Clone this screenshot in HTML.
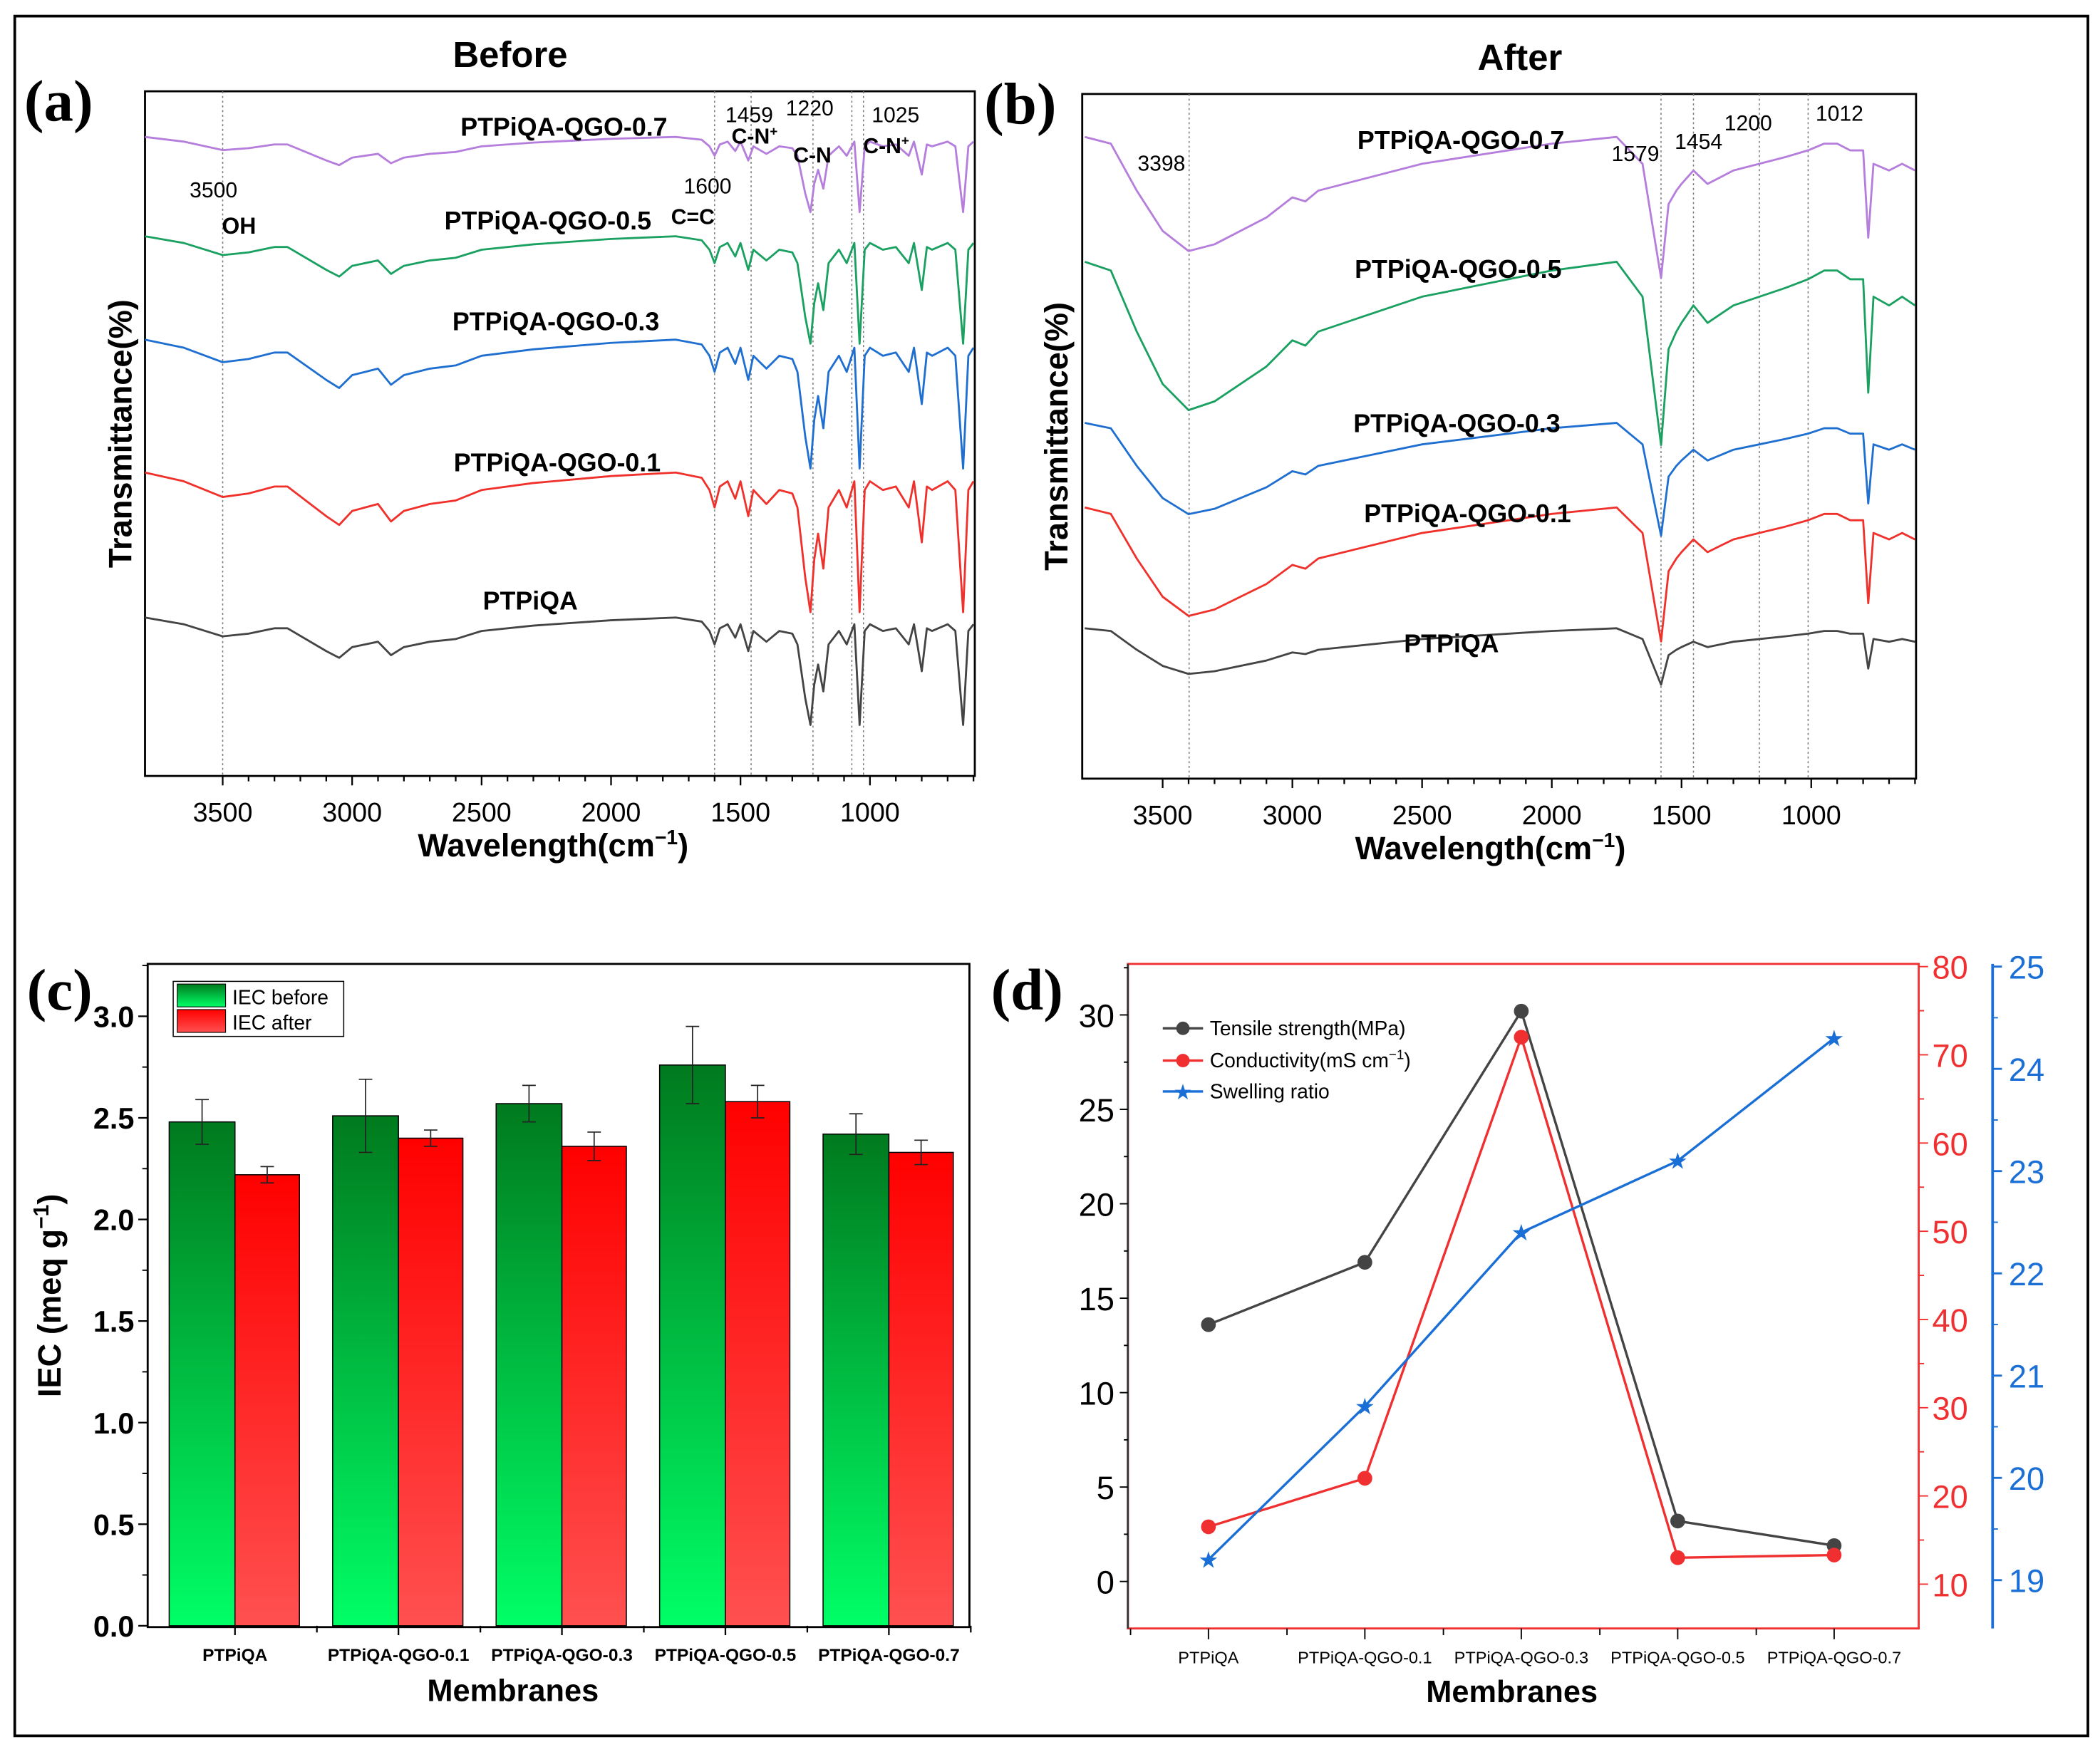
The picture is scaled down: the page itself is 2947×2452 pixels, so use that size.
<!DOCTYPE html>
<html><head><meta charset="utf-8"><style>
html,body{margin:0;padding:0;background:#fff}
svg{display:block}
text{font-family:"Liberation Sans",Arial,sans-serif}
.b{font-weight:bold}
.serif{font-family:"Liberation Serif",serif;font-weight:bold}
</style></head><body>
<svg id="fig" width="2947" height="2452" viewBox="0 0 1564 1301.3" preserveAspectRatio="none" xmlns="http://www.w3.org/2000/svg">
<defs>
<linearGradient id="gG" x1="0" y1="0" x2="0" y2="1"><stop offset="0" stop-color="#007a1e"/><stop offset="1" stop-color="#00ff66"/></linearGradient>
<linearGradient id="gR" x1="0" y1="0" x2="0" y2="1"><stop offset="0" stop-color="#ff0000"/><stop offset="1" stop-color="#ff5050"/></linearGradient>
</defs>
<rect x="11" y="12" width="1544" height="1281" fill="none" stroke="#000" stroke-width="2"/>
<g id="pa"></g>
<g id="pb"></g>
<g id="pc"></g>
<g id="pd"></g>
</svg>
<script>
// ---------- Data ----------
const ftirBeforeWn = [3800,3650,3500,3400,3300,3250,3100,3050,3000,2950,2900,2850,2800,2700,2600,2500,2300,2000,1750,1650,1620,1600,1580,1550,1520,1500,1470,1450,1400,1350,1300,1280,1250,1230,1215,1200,1180,1160,1120,1090,1060,1040,1020,1000,950,900,850,830,800,780,760,700,670,640,620,600];
const ftirBeforeT  = [0,5,14,12,8,8,25,30,22,20,18,28,22,18,16,10,6,2,0,3,10,20,8,5,15,5,25,10,18,10,12,20,60,80,50,35,55,20,10,20,5,80,10,5,10,8,20,5,40,8,10,5,10,80,10,5];
const ftirAfterWn = [3800,3700,3600,3500,3400,3300,3100,3000,2950,2900,2500,2000,1750,1650,1600,1579,1550,1520,1500,1454,1400,1350,1300,1200,1100,1012,950,900,850,800,780,760,700,650,600];
const ftirAfterT  = [0,5,40,70,85,80,60,45,48,40,20,5,0,20,80,105,50,40,35,25,35,30,25,20,15,10,5,5,10,10,75,20,25,20,25];
const beforeNames = ["PTPiQA-QGO-0.7","PTPiQA-QGO-0.5","PTPiQA-QGO-0.3","PTPiQA-QGO-0.1","PTPiQA"];
const beforeBase = [102,176,253,352,460];
const beforeScale = [0.7,1.0,1.2,1.3,1.0];
const afterBase = [102,195,315,378,468];
const afterScale = [1.0,1.3,0.8,0.95,0.4];
const seriesColors = ["#b57edc","#1aa060","#1f6fd1","#f0312b","#444"];

const membranes = ["PTPiQA","PTPiQA-QGO-0.1","PTPiQA-QGO-0.3","PTPiQA-QGO-0.5","PTPiQA-QGO-0.7"];
const iecBefore = [2.48,2.51,2.57,2.76,2.42];
const iecBeforeErr = [0.11,0.18,0.09,0.19,0.10];
const iecAfter = [2.22,2.40,2.36,2.58,2.33];
const iecAfterErr = [0.04,0.04,0.07,0.08,0.06];
const iecTicks = [0.0,0.5,1.0,1.5,2.0,2.5,3.0];

const tensile = [13.6,16.9,30.2,3.2,1.9];
const conductivity = [16.5,22,72,13,13.3];
const swelling = [19.2,20.7,22.4,23.1,24.3];
const tensileTicks = [0,5,10,15,20,25,30];
const condTicks = [10,20,30,40,50,60,70,80];
const swellTicks = [19,20,21,22,23,24,25];
const wnTicks = [3500,3000,2500,2000,1500,1000];

// ---------- helpers ----------
const NS="http://www.w3.org/2000/svg";
function el(parent,tag,attrs,txt){const e=document.createElementNS(NS,tag);for(const k in attrs)e.setAttribute(k,attrs[k]);if(txt!==undefined)e.textContent=txt;parent.appendChild(e);return e;}

// ---------- FTIR panels ----------
function ftir(g,box,wnMax,wnMin,wn,T,bases,scales,title,titleX,letter,letterX,annots,labelPos,ylabX,xlabX){
  const sx=w=>box.x+(wnMax-w)/(wnMax-wnMin)*box.w;
  let r=el(g,'rect',{x:box.x,y:box.y,width:box.w,height:box.h,fill:'none',stroke:'#000','stroke-width':1.5});
  
  annots.forEach(a=>{let l=el(g,'line',{x1:sx(a),x2:sx(a),y1:box.y,y2:box.y+box.h,stroke:'#777','stroke-width':0.8,'stroke-dasharray':'1.5,2'});
    });
  bases.forEach((b,i)=>{
    let d='';wn.forEach((w,j)=>{d+=(j?'L':'M')+sx(w).toFixed(1)+','+(b+T[j]*scales[i]).toFixed(1);});
    let p=el(g,'path',{d:d,fill:'none',stroke:seriesColors[i],'stroke-width':1.5,'stroke-linejoin':'round'});
    
    let t=el(g,'text',{x:labelPos[i][0],y:labelPos[i][1],'font-size':19,'text-anchor':'middle',class:'b'},beforeNames[i]);
    
  });
  for(let w=3500;w>=wnMin;w-=100){const x=sx(w);if(x>box.x+box.w||x<box.x)continue;const major=w%500===0;
    el(g,'line',{x1:x,x2:x,y1:box.y+box.h,y2:box.y+box.h+(major?7:4),stroke:'#000','stroke-width':1.2});}
  wnTicks.forEach(w=>{let t=el(g,'text',{x:sx(w),y:box.y+box.h+34,'font-size':20,'text-anchor':'middle'},w);
    });
  let t1=el(g,'text',{x:titleX,y:box.y-18,'font-size':27,'text-anchor':'middle',class:'b'},title);
  
  let t2=el(g,'text',{x:letterX,y:box.y+22,'font-size':44,class:'serif'},letter);
  
  let cy=box.y+box.h/2;
  let t3=el(g,'text',{x:ylabX,y:cy,'font-size':24,'text-anchor':'middle',class:'b',transform:`rotate(-90 ${ylabX} ${cy})`},'Transmittance(%)');
  
  let t4=el(g,'text',{x:xlabX,y:box.y+box.h+60,'font-size':24,'text-anchor':'middle',class:'b'});
  t4.innerHTML='Wavelength(cm<tspan dy="-9" font-size="15">−1</tspan><tspan dy="9">)</tspan>';
  
}
const pa=document.getElementById('pa');
ftir(pa,{x:108,y:68,w:618,h:510},3800,595,ftirBeforeWn,ftirBeforeT,beforeBase,beforeScale,'Before',380,'(a)',18,[3500,1600,1459,1220,1070,1025],
 [[420,101],[408,171],[414,246],[415,351],[395,454]],98,412);
const pb=document.getElementById('pb');
ftir(pb,{x:806,y:70,w:621,h:510},3810,596,ftirAfterWn,ftirAfterT,afterBase,afterScale,'After',1132,'(b)',733,[3398,1579,1454,1200,1012],
 [[1088,111],[1086,207],[1085,322],[1093,389],[1081,486]],795,1110);
// annotations
[['3500',159,147,16,''],['OH',178,174,17,'b'],['1600',527,144,16,''],['C=C',516,167,16,'b'],['1459',558,91,16,''],['1220',603,86,16,''],['C-N',605,121,16,'b'],['1025',667,91,16,''],
 ['3398',865,127,16,''],['1579',1218,120,16,''],['1454',1265,111,16,''],['1200',1302,97,16,'']].forEach(a=>{
  let t=el(a[1]>760?pb:pa,'text',{x:a[1],y:a[2],'font-size':a[3],'text-anchor':'middle',class:a[4]},a[0]);
  });
{let t=el(pb,'text',{x:1370,y:90,'font-size':16,'text-anchor':'middle'},'1012');}
[[562,107],[660,114]].forEach(p=>{let t=el(pa,'text',{x:p[0],y:p[1],'font-size':16,'text-anchor':'middle',class:'b'});
  t.innerHTML='C-N<tspan dy="-6" font-size="10">+</tspan>';});

// ---------- Panel c ----------
const pc=document.getElementById('pc');
{const box={x:110,y:718,w:612,h:494};const y0=1211,y3=757;
 const sy=v=>y0-(v/3)*(y0-y3);
 const cx=i=>175+i*121.75;
 let r=el(pc,'rect',{x:box.x,y:box.y,width:box.w,height:box.h,fill:'none',stroke:'#000','stroke-width':1.5});
 membranes.forEach((m,i)=>{
   let b=el(pc,'rect',{x:cx(i)-49,y:sy(iecBefore[i]),width:49,height:y0-sy(iecBefore[i]),fill:'url(#gG)',stroke:'#000','stroke-width':0.8});
   
   let b2=el(pc,'rect',{x:cx(i),y:sy(iecAfter[i]),width:48,height:y0-sy(iecAfter[i]),fill:'url(#gR)',stroke:'#000','stroke-width':0.8});
   
   [[cx(i)-24.5,iecBefore[i],iecBeforeErr[i]],[cx(i)+24,iecAfter[i],iecAfterErr[i]]].forEach(e=>{
     let g=el(pc,'path',{d:`M${e[0]},${sy(e[1]+e[2])}V${sy(e[1]-e[2])}M${e[0]-5},${sy(e[1]+e[2])}h10M${e[0]-5},${sy(e[1]-e[2])}h10`,stroke:'#222','stroke-width':0.9,fill:'none'});
     });
   let t=el(pc,'text',{x:cx(i),y:1237,'font-size':13,'text-anchor':'middle',class:'b'},m);
   el(pc,'line',{x1:cx(i),x2:cx(i),y1:y0,y2:y0+7,stroke:'#000','stroke-width':1.2});
   el(pc,'line',{x1:cx(i)+61,x2:cx(i)+61,y1:y0,y2:y0+5,stroke:'#000','stroke-width':1.2});
 });
 iecTicks.forEach(v=>{el(pc,'line',{x1:box.x-7,x2:box.x,y1:sy(v),y2:sy(v),stroke:'#000','stroke-width':1.2});
   el(pc,'line',{x1:box.x-4,x2:box.x,y1:sy(v+0.25),y2:sy(v+0.25),stroke:'#000','stroke-width':1});
   let t=el(pc,'text',{x:box.x-10,y:sy(v)+8,'font-size':22,'text-anchor':'end',class:'b'},v.toFixed(1));});
 let lg=el(pc,'g',{});
 el(lg,'rect',{x:129,y:731,width:127,height:41,fill:'#fff',stroke:'#000','stroke-width':0.8});
 el(lg,'rect',{x:132,y:733,width:36,height:17,fill:'url(#gG)',stroke:'#000','stroke-width':0.6});
 el(lg,'rect',{x:132,y:752,width:36,height:17,fill:'url(#gR)',stroke:'#000','stroke-width':0.6});
 el(lg,'text',{x:173,y:748,'font-size':15},'IEC before');el(lg,'text',{x:173,y:767,'font-size':15},'IEC after');
 let t=el(pc,'text',{x:45,y:965,'font-size':24,'text-anchor':'middle',class:'b',transform:'rotate(-90 45 965)'});
 t.innerHTML='IEC (meq g<tspan dy="-9" font-size="16">−1</tspan><tspan dy="9">)</tspan>';
 let t2=el(pc,'text',{x:382,y:1267,'font-size':23,'text-anchor':'middle',class:'b'},'Membranes');
 let t3=el(pc,'text',{x:20,y:752,'font-size':44,class:'serif'},'(c)');
}

// ---------- Panel d ----------
const pd=document.getElementById('pd');
{const L=840,R=1429,T=718,B=1213;
 const sL=v=>1178-v/30*(1178-756);
 const sC=v=>1180-(v-10)/70*(1180-720);
 const sS=v=>1177-(v-19)/6*(1177-720);
 const cx=i=>900+i*116.5;
 let r=el(pd,'rect',{x:L,y:T,width:R-L,height:B-T,fill:'none',stroke:'#f03030','stroke-width':1.5});
 el(pd,'line',{x1:L,x2:L,y1:T,y2:B,stroke:'#333','stroke-width':1.5});
 el(pd,'line',{x1:1484,x2:1484,y1:T,y2:B,stroke:'#1a6fd6','stroke-width':2});
 tensileTicks.forEach(v=>{el(pd,'line',{x1:L-6,x2:L,y1:sL(v),y2:sL(v),stroke:'#000'});
   el(pd,'line',{x1:L-3,x2:L,y1:sL(v+2.5),y2:sL(v+2.5),stroke:'#000'});
   let t=el(pd,'text',{x:L-10,y:sL(v)+9,'font-size':24,'text-anchor':'end'},v);});
 condTicks.forEach(v=>{el(pd,'line',{x1:R,x2:R+7,y1:sC(v),y2:sC(v),stroke:'#f03030'});
   if(v<80)el(pd,'line',{x1:R,x2:R+4,y1:sC(v+5),y2:sC(v+5),stroke:'#f03030'});
   let t=el(pd,'text',{x:R+10,y:sC(v)+9,'font-size':24,fill:'#f03030'},v);});
 swellTicks.forEach(v=>{el(pd,'line',{x1:1484,x2:1491,y1:sS(v),y2:sS(v),stroke:'#1a6fd6','stroke-width':1.5});
   if(v<25)el(pd,'line',{x1:1484,x2:1488,y1:sS(v+0.5),y2:sS(v+0.5),stroke:'#1a6fd6'});
   let t=el(pd,'text',{x:1496,y:sS(v)+9,'font-size':24,fill:'#1a6fd6'},v);});
 membranes.forEach((m,i)=>{el(pd,'line',{x1:cx(i),x2:cx(i),y1:B,y2:B+8,stroke:'#000'});el(pd,'line',{x1:cx(i)-58,x2:cx(i)-58,y1:B,y2:B+5,stroke:'#000'});
   let t=el(pd,'text',{x:cx(i),y:1239,'font-size':12.5,'text-anchor':'middle'},m);});
 const series=[[tensile,sL,'#444','circle','tensile'],[conductivity,sC,'#f03030','hex','conductivity'],[swelling,sS,'#1a6fd6','star','swelling']];
 series.forEach(s=>{let pts=s[0].map((v,i)=>[cx(i),s[1](v)]);
   let p=el(pd,'polyline',{points:pts.map(p=>p.join(',')).join(' '),fill:'none',stroke:s[2],'stroke-width':1.8});
   
   pts.forEach(q=>{let mk;
     if(s[3]==='star')mk=el(pd,'text',{x:q[0],y:q[1]+6,'font-size':17,'text-anchor':'middle',fill:s[2]},'★');
     else mk=el(pd,'circle',{cx:q[0],cy:q[1],r:5.5,fill:s[2]});
     });});
 let lg=el(pd,'g',{});
 [['Tensile strength(MPa)','#444','circle',766],['Conductivity(mS cm','#f03030','circle',790],['Swelling ratio','#1a6fd6','star',813]].forEach(e=>{
   el(lg,'line',{x1:866,x2:896,y1:e[3],y2:e[3],stroke:e[1],'stroke-width':1.8});
   if(e[2]==='star')el(lg,'text',{x:881,y:e[3]+6,'font-size':16,'text-anchor':'middle',fill:e[1]},'★');else el(lg,'circle',{cx:881,cy:e[3],r:5,fill:e[1]});
   let t=el(lg,'text',{x:901,y:e[3]+5,'font-size':15},e[0]);
   if(e[0].startsWith('Cond'))t.innerHTML='Conductivity(mS cm<tspan dy="-6" font-size="10">−1</tspan><tspan dy="6">)</tspan>';});
 let t2=el(pd,'text',{x:1126,y:1268,'font-size':23,'text-anchor':'middle',class:'b'},'Membranes');
 let t3=el(pd,'text',{x:738,y:752,'font-size':44,class:'serif'},'(d)');
}
</script>
</body></html>
